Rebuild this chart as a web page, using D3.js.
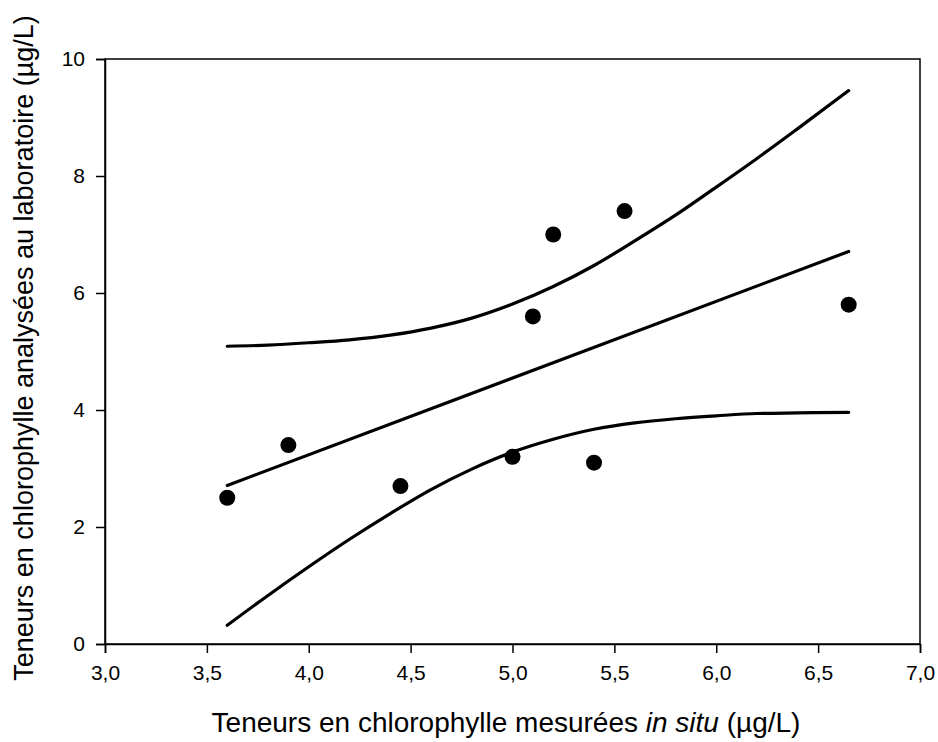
<!DOCTYPE html>
<html><head><meta charset="utf-8">
<script src="https://cdn.jsdelivr.net/npm/d3@7"></script>
<style>body{margin:0;background:#fff;} svg{display:block;} text{font-family:Arial,"Liberation Sans",sans-serif;fill:#000;}</style>
</head><body>
<svg id="chart" width="938" height="742"></svg>
<script>
// Observations
const obsX = [3.6, 3.9, 4.45, 5.0, 5.1, 5.2, 5.4, 5.55, 6.65];
const obsY = [2.5, 3.4, 2.7, 3.2, 5.6, 7.0, 3.1, 7.4, 5.8];
// Regression line
const regX = [3.6, 6.65];
const regY = [2.71, 6.71];
// Confidence band curves
const bandX = [3.6, 3.8, 4.0, 4.2, 4.4, 4.6, 4.8, 5.0, 5.2, 5.4, 5.6, 5.8, 6.0, 6.2, 6.4, 6.65];
const upperY = [5.09, 5.11, 5.15, 5.20, 5.28, 5.40, 5.57, 5.81, 6.11, 6.47, 6.89, 7.33, 7.81, 8.30, 8.81, 9.46];
const lowerY = [0.32, 0.83, 1.32, 1.79, 2.23, 2.64, 2.99, 3.28, 3.50, 3.67, 3.78, 3.85, 3.90, 3.94, 3.95, 3.96];
const xTicks = [3.0, 3.5, 4.0, 4.5, 5.0, 5.5, 6.0, 6.5, 7.0];
const yTicks = [0, 2, 4, 6, 8, 10];
const xTitle = "Teneurs en chlorophylle mesurées ";
const xTitleItalic = "in situ";
const xTitleEnd = " (µg/L)";
const yTitle = "Teneurs en chlorophylle analysées au laboratoire (µg/L)";

const svg = d3.select("#chart");
const L = 105, R = 920, T = 59, B = 644;
const x = d3.scaleLinear().domain([3, 7]).range([L, R]);
const y = d3.scaleLinear().domain([0, 10]).range([B, T]);
const fmt = d => d.toFixed(1).replace(".", ",");

// frame
svg.append("rect").attr("x", L).attr("y", T).attr("width", R - L).attr("height", B - T)
  .attr("fill", "none").attr("stroke", "#000").attr("stroke-width", 1.5);

const xAxis = svg.append("g").attr("transform", `translate(0,${B})`)
  .call(d3.axisBottom(x).tickValues(xTicks).tickFormat(fmt).tickSize(9).tickPadding(12));
const yAxis = svg.append("g").attr("transform", `translate(${L},0)`)
  .call(d3.axisLeft(y).tickValues(yTicks).tickFormat(d3.format("d")).tickSize(9).tickPadding(11));
[xAxis, yAxis].forEach(g => {
  g.attr("font-size", null).attr("font-family", null);
  g.select(".domain").attr("stroke", "#000").attr("stroke-width", 1.5);
  g.selectAll(".tick line").attr("stroke", "#000").attr("stroke-width", 1.5);
  g.selectAll(".tick text").style("font-size", "21px").style("font-family", "Arial, 'Liberation Sans', sans-serif");
});

const line = d3.line().x(d => x(d[0])).y(d => y(d[1])).curve(d3.curveMonotoneX);
const drawLine = (xs, ys) => svg.append("path")
  .datum(xs.map((v, i) => [v, ys[i]]))
  .attr("d", line).attr("fill", "none").attr("stroke", "#000")
  .attr("stroke-width", 3.2).attr("stroke-linecap", "round");
drawLine(regX, regY);
drawLine(bandX, upperY);
drawLine(bandX, lowerY);

svg.append("g").selectAll("circle").data(obsX.map((v, i) => [v, obsY[i]])).join("circle")
  .attr("cx", d => x(d[0])).attr("cy", d => y(d[1])).attr("r", 8).attr("fill", "#000");

const xt = svg.append("text").attr("x", 506).attr("y", 732)
  .attr("text-anchor", "middle").style("font-size", "28px");
xt.append("tspan").text(xTitle);
xt.append("tspan").style("font-style", "italic").text(xTitleItalic);
xt.append("tspan").text(xTitleEnd);

svg.append("text").attr("transform", `translate(33,348) rotate(-90)`)
  .attr("text-anchor", "middle").style("font-size", "27px").text(yTitle);
</script>
</body></html>
